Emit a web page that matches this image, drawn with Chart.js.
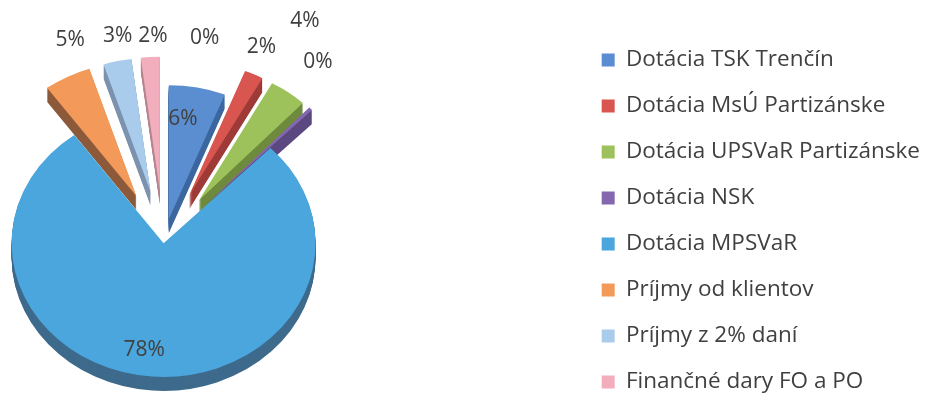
<!DOCTYPE html>
<html>
<head>
<meta charset="utf-8">
<script src="https://cdn.jsdelivr.net/npm/chart.js@4"></script>
<style>
  html, body { margin: 0; background: #fff; width: 929px; height: 407px; overflow: hidden; position: relative; }
  /* canvas is wider/taller than the window so the pie sits left and the legend lines up on the right */
  #wrap { position: absolute; left: -251px; top: 0; width: 1181px; height: 461px; }
</style>
</head>
<body>
<div id="wrap"><canvas id="pieChart"></canvas></div>
<script>
const categories = ['Dotácia TSK Trenčín', 'Dotácia MsÚ Partizánske', 'Dotácia UPSVaR Partizánske', 'Dotácia NSK',
  'Dotácia MPSVaR', 'Príjmy od klientov', 'Príjmy z 2% daní', 'Finančné dary FO a PO', ''];
const shares = [6, 2, 4, 0.4, 77.6, 5, 3, 2, 0];

// look of the slices
const topColors = ['#5A8ED0', '#D95550', '#9DC25C', '#8467AE', '#4AA6DC', '#F39A5A', '#A9CBEC', '#F2AEBC', '#cccccc'];
const sideColors = ['#3C679F', '#9E3A37', '#6E8A3D', '#5C4880', '#3E6A8C', '#8C5A3A', '#7C93AE', '#B58690', '#999999'];
const explode = [28, 60, 60, 60, 0, 60, 60, 60, 0];
const labelDist = [0.94, 1.6, 1.9, 1.69, 0.81, 1.64, 1.58, 1.55, 1.56];
const labelTurn = [-3, -1.5, -6.7, -7, 4.7, 5, 1.6, 1, 10];
const TILT = 0.88, DEPTH = 14, RADIUS = 152;
const FONT = 'Open Sans';

const total = shares.reduce((a, b) => a + b, 0);

function centerY(chart) {
  return (chart.chartArea.top + chart.chartArea.bottom) / 2;
}

// copy of an arc element, moved and recoloured, drawn by the arc's own draw()
function ghost(arc, dx, dy, color) {
  const g = Object.create(arc);
  g.x = arc.x + dx;
  g.y = arc.y + dy;
  g.options = Object.assign({}, arc.options, { backgroundColor: color, offset: 0, borderWidth: 0 });
  return g;
}

const pie3d = {
  id: 'pie3d',
  beforeDatasetsDraw(chart) {
    const ctx = chart.ctx;
    const cy = centerY(chart);
    const arcs = chart.getDatasetMeta(0).data;
    ctx.save();
    ctx.translate(0, cy);
    ctx.scale(1, TILT);
    ctx.translate(0, -cy);
    const shift = arcs.map((arc, i) => {
      const mid = (arc.startAngle + arc.endAngle) / 2;
      return [Math.cos(mid) * explode[i], Math.sin(mid) * explode[i]];
    });
    for (let d = DEPTH; d > 0; d--) {
      arcs.forEach((arc, i) => {
        ghost(arc, shift[i][0], shift[i][1] + d / TILT, sideColors[i]).draw(ctx);
      });
    }
    arcs.forEach((arc, i) => {
      ghost(arc, shift[i][0], shift[i][1], topColors[i]).draw(ctx);
    });
    ctx.restore();
  },
  beforeDatasetDraw() {
    return false;
  },
  afterDraw(chart) {
    const ctx = chart.ctx;
    const cy = centerY(chart);
    const arcs = chart.getDatasetMeta(0).data;
    ctx.save();
    ctx.font = '21px "' + FONT + '"';
    ctx.fillStyle = '#404040';
    ctx.textAlign = 'center';
    ctx.textBaseline = 'middle';
    arcs.forEach((arc, i) => {
      const mid = (arc.startAngle + arc.endAngle) / 2 + labelTurn[i] * Math.PI / 180;
      const d = labelDist[i] * arc.outerRadius;
      const lx = arc.x + Math.cos(mid) * d;
      const ly = cy + (arc.y + Math.sin(mid) * d - cy) * TILT;
      ctx.fillText(Math.round(shares[i] / total * 100) + '%', lx, ly);
    });
    ctx.restore();
  }
};

new Chart(document.getElementById('pieChart'), {
  type: 'pie',
  data: {
    labels: categories,
    datasets: [{
      data: shares,
      backgroundColor: topColors,
      borderWidth: 0,
      radius: RADIUS
    }]
  },
  options: {
    responsive: true,
    maintainAspectRatio: false,
    animation: false,
    layout: { padding: { left: 0, right: 0, top: 25.25, bottom: 0 } },
    plugins: {
      legend: {
        position: 'right',
        align: 'start',
        labels: {
          boxWidth: 13,
          boxHeight: 13,
          padding: 23.5,
          color: '#404040',
          font: { family: FONT, size: 22.5 },
          filter: item => item.text !== ''
        }
      },
      tooltip: { enabled: false }
    }
  },
  plugins: [pie3d]
});
</script>
</body>
</html>
